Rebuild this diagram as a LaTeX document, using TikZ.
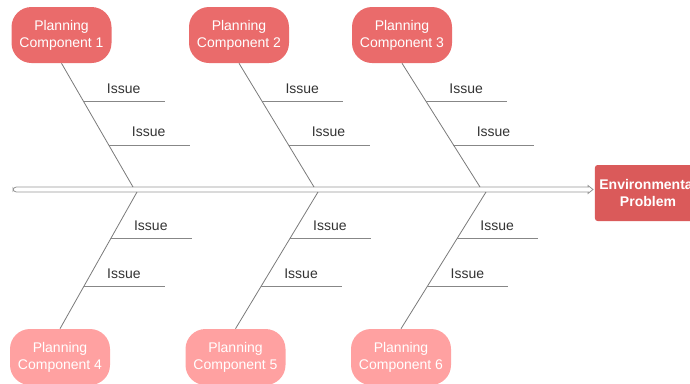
\documentclass[tikz,border=0pt]{standalone}
\usepackage{fontspec}
\setmainfont{Liberation Sans}
\usetikzlibrary{calc}
\definecolor{topred}{HTML}{EA6B6B}
\definecolor{lowred}{HTML}{FFA1A1}
\definecolor{headred}{HTML}{DA5A5A}
\definecolor{bonegray}{HTML}{7A7A7A}
\definecolor{txtgray}{HTML}{333333}
\tikzset{
	comp/.style={rounded corners=15pt, minimum width=75pt, minimum height=42pt, inner sep=2pt,
		text=white, align=center, font=\fontsize{10.5}{12.75}\selectfont},
	head/.style={fill=headred, rounded corners=2pt, minimum width=79.5pt, minimum height=42pt,
		text=white, align=center, font=\fontsize{10.5}{12.75}\selectfont\bfseries},
	bone/.style={draw=bonegray, line width=0.6pt},
	issueline/.style={draw=bonegray!90, line width=0.6pt},
	issuetext/.style={text=txtgray, inner sep=0pt, font=\fontsize{10.5}{12.75}\selectfont},
	spine/.style={draw=bonegray!80, line width=0.6pt}
}
\begin{document}
\begin{tikzpicture}[x=0.75pt, y=-0.75pt]
	\useasboundingbox (0,0) rectangle (690,383);
	% backbone
	\draw[spine, rounded corners=2.5] (589,187) -- (13,187) -- (13,192) -- (589,192);
	\draw[spine] (588,187) -- (588,185.5) -- (593,189.5) -- (588,193.5) -- (588,192);
	\node[head] (problem) at (648,193) {Environmental\\Problem};
	% components
	\node[comp, fill=topred] (pc1) at (61.5,35) {Planning\\Component 1};
	\node[comp, fill=topred] (pc2) at (239,35) {Planning\\Component 2};
	\node[comp, fill=topred] (pc3) at (402,35) {Planning\\Component 3};
	\node[comp, fill=lowred] (pc4) at (60,357) {Planning\\Component 4};
	\node[comp, fill=lowred] (pc5) at (235.5,357) {Planning\\Component 5};
	\node[comp, fill=lowred] (pc6) at (401,357) {Planning\\Component 6};
	% where the bones meet the backbone
	\coordinate (t1) at (133,187);
	\coordinate (t2) at (314,187);
	\coordinate (t3) at (480,187);
	\coordinate (t4) at (137,192);
	\coordinate (t5) at (318,192);
	\coordinate (t6) at (486,192);
	% bones and issues
	\foreach \i/\an in {1/south,2/south,3/south,4/north,5/north,6/north} {
		\draw[bone] (pc\i.\an) -- (t\i);
		\foreach \f [count=\j] in {0.34,0.69} {
			\coordinate (b\i\j) at ($(t\i)!\f!(pc\i.\an)$);
			\coordinate (e\i\j) at ($(b\i\j)+(81,0)$);
			\draw[issueline] (b\i\j) -- (e\i\j);
			\node[issuetext] (l\i\j) at ($(b\i\j)+(40,-13)$) {Issue};
		}
	}
\end{tikzpicture}
\end{document}
